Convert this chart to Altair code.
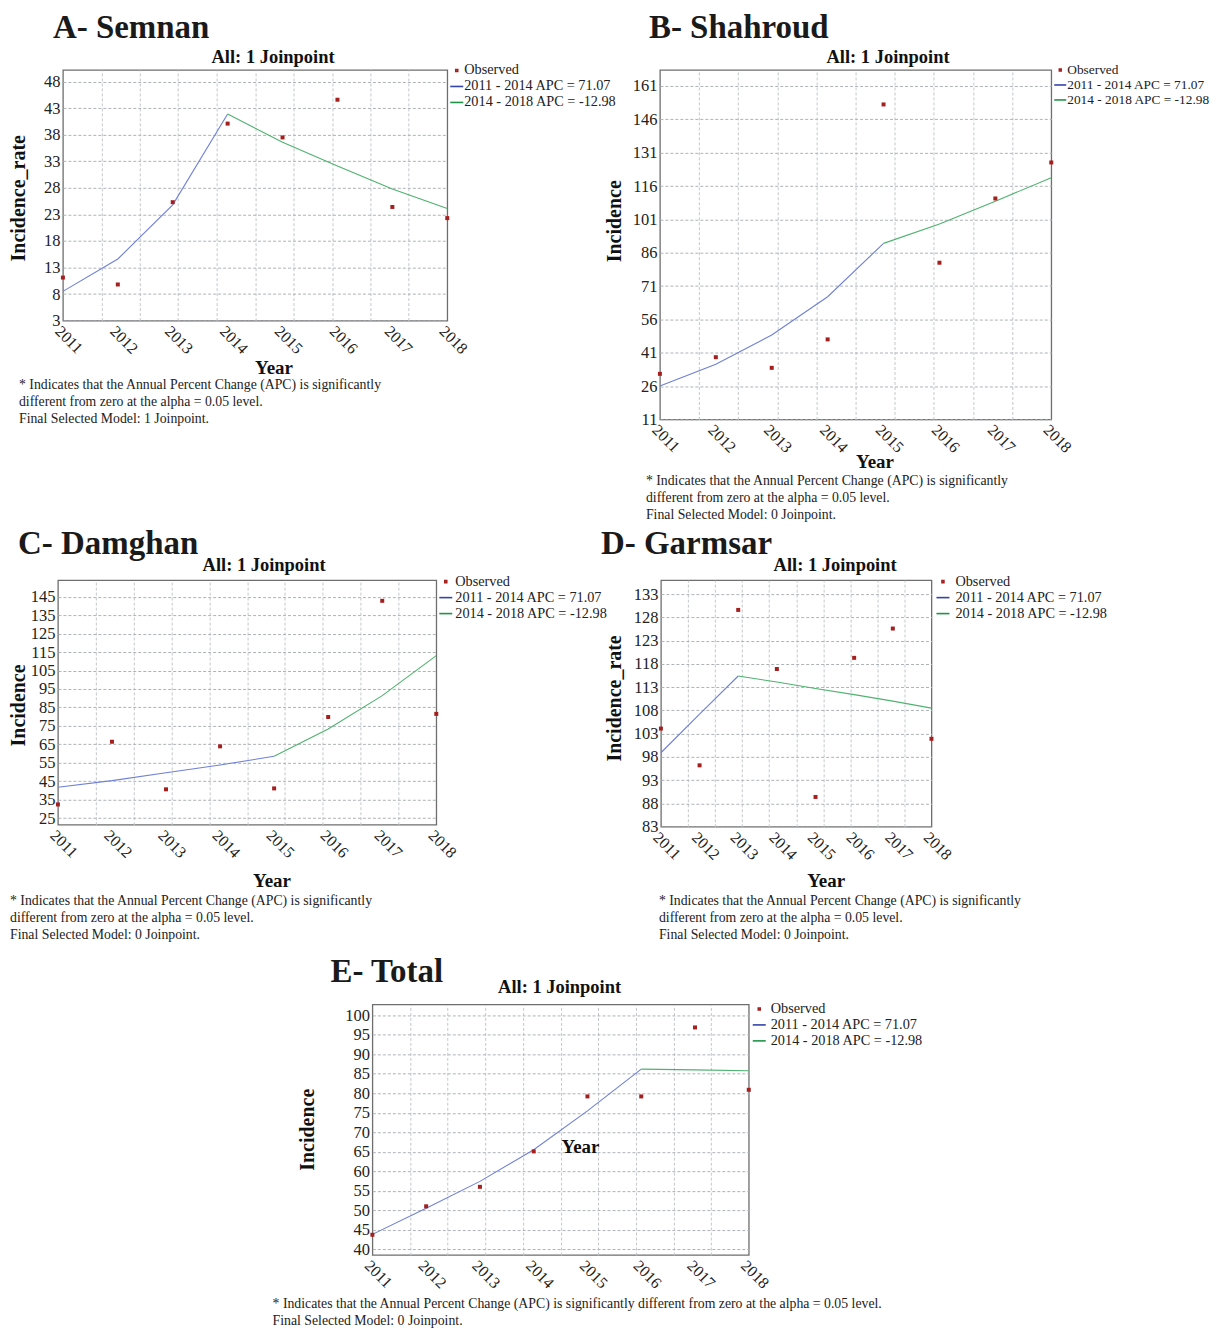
import altair as alt
import pandas as pd

FONT = "Liberation Serif"

# ---------------- shared values ----------------
YEARS = [2011, 2012, 2013, 2014, 2015, 2016, 2017, 2018]
SERIES = ["Observed", "2011 - 2014 APC = 71.07", "2014 - 2018 APC = -12.98"]
LEGEND_COLORS = ["#a51f1f", "#3345a8", "#1f9447"]
LEGEND_SHAPES = ["M-0.15,-0.15H0.15V0.15H-0.15Z", "M-1,0H1", "M-1,0H1"]
GRID_X = [2011 + 0.7 * k for k in range(1, 10)]  # ten equal vertical grid divisions

NOTE_3 = ["* Indicates that the Annual Percent Change (APC) is significantly",
          "different from zero at the alpha = 0.05 level."]
NOTE_E = ["* Indicates that the Annual Percent Change (APC) is significantly different from zero at the alpha = 0.05 level."]

# ---------------- A - Semnan ----------------
A_OBS = [11.1, 9.8, 25.3, 40.1, 37.5, 44.6, 24.4, 22.3]
A_SEG1_X = [2011, 2012, 2013, 2014]
A_SEG1_Y = [8.5, 14.6, 24.8, 41.9]
A_SEG2_X = [2014, 2015, 2016, 2017, 2018]
A_SEG2_Y = [41.9, 36.6, 32.1, 27.8, 24.1]
A_TICKS = [3, 8, 13, 18, 23, 28, 33, 38, 43, 48]
A_DOMAIN = [3, 50.2]

# ---------------- B - Shahroud ----------------
B_OBS = [31.5, 39.0, 34.2, 47.0, 152.7, 81.5, 110.4, 126.6]
B_SEG1_X = [2011, 2012, 2013, 2014, 2015]
B_SEG1_Y = [26.0, 35.8, 49.0, 66.2, 90.2]
B_SEG2_X = [2015, 2016, 2017, 2018]
B_SEG2_Y = [90.2, 98.9, 109.2, 119.7]
B_TICKS = [11, 26, 41, 56, 71, 86, 101, 116, 131, 146, 161]
B_DOMAIN = [11, 168.2]

# ---------------- C - Damghan ----------------
C_OBS = [32.4, 66.4, 40.6, 63.9, 41.1, 79.8, 142.8, 81.5]
C_SEG1_X = [2011, 2012, 2013, 2014, 2015]
C_SEG1_Y = [41.7, 45.3, 49.6, 53.8, 58.5]
C_SEG2_X = [2015, 2016, 2017, 2018]
C_SEG2_Y = [58.5, 73.3, 91.4, 113.1]
C_TICKS = [25, 35, 45, 55, 65, 75, 85, 95, 105, 115, 125, 135, 145]
C_DOMAIN = [21.4, 154.0]

# ---------------- D - Garmsar ----------------
D_OBS = [104.1, 96.2, 129.6, 116.9, 89.4, 119.3, 125.6, 101.9]
D_SEG1_X = [2011, 2012, 2013]
D_SEG1_Y = [98.9, 107.2, 115.4]
D_SEG2_X = [2013, 2014, 2015, 2016, 2017, 2018]
D_SEG2_Y = [115.4, 114.1, 112.7, 111.4, 110.0, 108.5]
D_TICKS = [83, 88, 93, 98, 103, 108, 113, 118, 123, 128, 133]
D_DOMAIN = [83, 136]

# ---------------- E - Total ----------------
E_OBS = [43.7, 51.0, 56.0, 65.1, 79.2, 79.2, 96.9, 80.9]
E_SEG1_X = [2011, 2012, 2013, 2014, 2015, 2016]
E_SEG1_Y = [43.8, 50.5, 57.4, 65.5, 75.5, 86.2]
E_SEG2_X = [2016, 2017, 2018]
E_SEG2_Y = [86.2, 86.0, 85.8]
E_TICKS = [40, 45, 50, 55, 60, 65, 70, 75, 80, 85, 90, 95, 100]
E_DOMAIN = [38.5, 102.8]

BLUE = "#6e80d6"
GREEN = "#4fb26f"
ONE = pd.DataFrame({"k": [0]})


def panel(p):
    w, h = p["w"], p["h"]
    xs = alt.Scale(domain=[2011, 2018], nice=False, zero=False)
    ys = alt.Scale(domain=p["domain"], nice=False, zero=False)
    seg1 = pd.DataFrame({"year": p["s1x"], "value": p["s1y"]})
    seg2 = pd.DataFrame({"year": p["s2x"], "value": p["s2y"]})
    obs = pd.DataFrame({"year": YEARS, "value": p["obs"], "series": SERIES[0]})

    x_bottom = alt.Axis(orient="bottom", values=YEARS, format="d", grid=False, ticks=False,
                        domain=False, labelAngle=45, labelAlign="left", labelBaseline="top",
                        labelFlush=False, labelPadding=2, labelFontSize=16, labelColor="#222",
                        title="Year", titleFontSize=19, titleFontWeight="bold", titleColor="#111",
                        titleX=p["year_x"], titleY=p["year_y"], titleBaseline="middle",
                        titleAlign="center")
    x_top = alt.Axis(orient="top", values=GRID_X, labels=False, ticks=False, domain=False,
                     grid=True, gridColor="#c3c7cb", gridDash=[3, 2], gridWidth=1,
                     title="All: 1 Joinpoint", titleFontSize=18.5, titleFontWeight="bold",
                     titleColor="#111", titleX=p["all_x"], titleY=p["all_y"],
                     titleBaseline="alphabetic", titleAlign="center")
    y_axis = alt.Axis(orient="left", values=p["ticks"], grid=True, gridColor="#aeb3b8",
                      gridDash=[3, 2], gridWidth=1, ticks=False, domain=False,
                      labelFontSize=16.5, labelColor="#222", labelPadding=3, labelFlush=False,
                      title=p["ytitle"], titleFontSize=20, titleFontWeight="bold",
                      titleColor="#111", titleX=p["yt_x"], titleY=p["yt_y"],
                      titleBaseline="middle", titleAlign="center", titleAngle=270)

    l1 = alt.Chart(seg1).mark_line(color=BLUE, strokeWidth=1.1).encode(
        x=alt.X("year:Q", scale=xs, axis=x_bottom),
        y=alt.Y("value:Q", scale=ys, axis=y_axis))
    l2 = alt.Chart(seg2).mark_line(color=GREEN, strokeWidth=1.1).encode(
        x=alt.X("year:Q", scale=xs, axis=x_top),
        y=alt.Y("value:Q", scale=ys, axis=None))
    leg = alt.Legend(orient="none", legendX=w + p["lx"], legendY=p["ly"],
                     symbolSize=p.get("ls", 169), symbolStrokeWidth=1.6,
                     labelFontSize=p.get("lf", 14.3), labelColor="#222",
                     labelOffset=p["lo"], rowPadding=1, padding=0, labelLimit=400)
    pts = alt.Chart(obs).mark_point(filled=False, strokeWidth=2.2, size=144, opacity=1).encode(
        x=alt.X("year:Q", scale=xs, axis=None),
        y=alt.Y("value:Q", scale=ys, axis=None),
        color=alt.Color("series:N", scale=alt.Scale(domain=SERIES, range=LEGEND_COLORS),
                        legend=leg, title=None),
        shape=alt.Shape("series:N", scale=alt.Scale(domain=SERIES, range=LEGEND_SHAPES),
                        legend=leg, title=None))
    head = alt.Chart(ONE).mark_text(text=p["title"], fontSize=33, fontWeight="bold",
                                    align="left", baseline="alphabetic", color="#1a1a1a").encode(
        x=alt.value(p["t_x"]), y=alt.value(p["t_y"]))
    note = alt.Chart(ONE).mark_text(text=p["note"], fontSize=13.8, lineHeight=17, align="left",
                                    baseline="alphabetic", color="#222").encode(
        x=alt.value(p["n_x"]), y=alt.value(p["n_y"]))
    return alt.layer(l1, l2, pts, head, note).resolve_axis(
        x="independent", y="independent").properties(width=w, height=h)


A = panel(dict(w=385, h=251, domain=A_DOMAIN, ticks=A_TICKS, obs=A_OBS,
               s1x=A_SEG1_X, s1y=A_SEG1_Y, s2x=A_SEG2_X, s2y=A_SEG2_Y,
               ytitle="Incidence_rate", yt_x=-44, yt_y=128, year_x=211, year_y=47,
               all_x=210, all_y=-8, title="A- Semnan", t_x=-10, t_y=-32, lx=2, ly=-7, lo=0,
               note=NOTE_3 + ["Final Selected Model: 1 Joinpoint."], n_x=-44, n_y=320))
B = panel(dict(w=392, h=350, domain=B_DOMAIN, ticks=B_TICKS, obs=B_OBS,
               s1x=B_SEG1_X, s1y=B_SEG1_Y, s2x=B_SEG2_X, s2y=B_SEG2_Y,
               ytitle="Incidence", yt_x=-45, yt_y=151, year_x=215, year_y=42,
               all_x=228, all_y=-8, title="B- Shahroud", t_x=-11, t_y=-32, lx=2, ly=-7, lo=0,
               lf=13.4, ls=144,
               note=NOTE_3 + ["Final Selected Model: 0 Joinpoint."], n_x=-14, n_y=416))
C = panel(dict(w=379, h=245, domain=C_DOMAIN, ticks=C_TICKS, obs=C_OBS,
               s1x=C_SEG1_X, s1y=C_SEG1_Y, s2x=C_SEG2_X, s2y=C_SEG2_Y,
               ytitle="Incidence", yt_x=-39, yt_y=125, year_x=214, year_y=56,
               all_x=206, all_y=-10, title="C- Damghan", t_x=-40, t_y=-26, lx=2, ly=-6, lo=2,
               note=NOTE_3 + ["Final Selected Model: 0 Joinpoint."], n_x=-48, n_y=325))
D = panel(dict(w=271, h=247, domain=D_DOMAIN, ticks=D_TICKS, obs=D_OBS,
               s1x=D_SEG1_X, s1y=D_SEG1_Y, s2x=D_SEG2_X, s2y=D_SEG2_Y,
               ytitle="Incidence_rate", yt_x=-46, yt_y=118, year_x=165, year_y=54,
               all_x=174, all_y=-10, title="D- Garmsar", t_x=-60, t_y=-26, lx=4, ly=-6, lo=5,
               note=NOTE_3 + ["Final Selected Model: 0 Joinpoint."], n_x=-2, n_y=325))
E = panel(dict(w=377, h=251, domain=E_DOMAIN, ticks=E_TICKS, obs=E_OBS,
               s1x=E_SEG1_X, s1y=E_SEG1_Y, s2x=E_SEG2_X, s2y=E_SEG2_Y,
               ytitle="Incidence", yt_x=-65, yt_y=125, year_x=208, year_y=-109,
               all_x=187, all_y=-12, title="E- Total", t_x=-42, t_y=-22, lx=3, ly=-3, lo=4,
               note=NOTE_E + ["Final Selected Model: 0 Joinpoint."], n_x=-100, n_y=304.5))


def spacer(width):
    return alt.Chart(ONE).mark_rule(opacity=0).encode(
        x=alt.value(0), x2=alt.value(width), y=alt.value(0)
    ).properties(width=width, height=10, view=alt.ViewBackground(stroke="transparent"))


def indep(c):
    return c.resolve_scale(color="independent", shape="independent")


row1 = indep(alt.hconcat(spacer(1), indep(alt.hconcat(A, B, spacing=-14)), spacing=-52))
row2 = indep(alt.hconcat(C, D, spacing=-9))
row3 = indep(alt.hconcat(spacer(213), E, spacing=0))

chart = indep(alt.vconcat(indep(alt.vconcat(row1, row2, spacing=4)), row3, spacing=13)).properties(
    padding={"left": 0, "top": 2, "right": 0, "bottom": 0}
).configure(font=FONT).configure_view(stroke="#6e6e6e", strokeWidth=1.3)

chart.save("out.html", embed_options={"renderer": "svg", "actions": False})
